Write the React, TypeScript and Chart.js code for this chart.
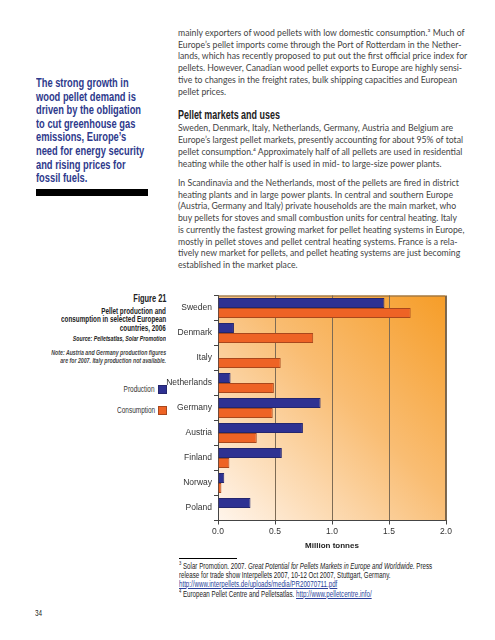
import React, { useEffect, useRef } from "react";
import { Chart, registerables } from "chart.js";

Chart.register(...registerables);

const countries = ["Sweden", "Denmark", "Italy", "Netherlands", "Germany", "Austria", "Finland", "Norway", "Poland"];
const production: (number | null)[] = [1.46, 0.14, null, 0.11, 0.9, 0.745, 0.56, 0.055, 0.285];
const consumption: (number | null)[] = [1.69, 0.835, 0.55, 0.49, 0.48, 0.34, 0.1, 0.03, null];
const xTicks = [0, 0.5, 1.0, 1.5, 2.0];

const SANS = "'Liberation Sans', Arial, sans-serif";
const BODY = "Lato, 'Open Sans', sans-serif";
const SQ = 0.745;

const para1 = [
  "mainly exporters of wood pellets with low domestic consumption.\u00B3 Much of",
  "Europe\u2019s pellet imports come through the Port of Rotterdam in the Nether-",
  "lands, which has recently proposed to put out the first official price index for",
  "pellets. However, Canadian wood pellet exports to Europe are highly sensi-",
  "tive to changes in the freight rates, bulk shipping capacities and European",
  "pellet prices.",
];
const para2 = [
  "Sweden, Denmark, Italy, Netherlands, Germany, Austria and Belgium are",
  "Europe\u2019s largest pellet markets, presently accounting for about 95% of total",
  "pellet consumption.\u2074 Approximately half of all pellets are used in residential",
  "heating while the other half is used in mid- to large-size power plants.",
];
const para3 = [
  "In Scandinavia and the Netherlands, most of the pellets are fired in district",
  "heating plants and in large power plants. In central and southern Europe",
  "(Austria, Germany and Italy) private households are the main market, who",
  "buy pellets for stoves and small combustion units for central heating. Italy",
  "is currently the fastest growing market for pellet heating systems in Europe,",
  "mostly in pellet stoves and pellet central heating systems. France is a rela-",
  "tively new market for pellets, and pellet heating systems are just becoming",
  "established in the market place.",
];
const sidebar = [
  "The strong growth in",
  "wood pellet demand is",
  "driven by the obligation",
  "to cut greenhouse gas",
  "emissions, Europe\u2019s",
  "need for energy security",
  "and rising prices for",
  "fossil fuels.",
];

const LINE = 11.7;

function Para({ lines, top }: { lines: string[]; top: number }) {
  return (
    <>
      {lines.map((l, i) => {
        const last = i === lines.length - 1;
        return (
          <div
            key={i}
            style={{
              position: "absolute",
              left: 178,
              width: 275,
              top: top + i * LINE - 6,
              height: 12,
              lineHeight: "12px",
              fontFamily: BODY,
              fontSize: 8.7,
              color: "#444",
              whiteSpace: "nowrap",
              textAlign: "justify",
              textAlignLast: last ? "left" : "justify",
            }}
          >
            {l}
          </div>
        );
      })}
    </>
  );
}

// condensed text line (horizontally squeezed sans)
function N({
  children,
  x,
  y,
  align = "left",
  size = 8.5,
  weight = "normal",
  italic = false,
  color = "#222",
  lh = 10,
}: {
  children: React.ReactNode;
  x: number;
  y: number;
  align?: "left" | "right";
  size?: number;
  weight?: string;
  italic?: boolean;
  color?: string;
  lh?: number;
}) {
  const pos: React.CSSProperties = align === "left" ? { left: x } : { right: 495 - x };
  return (
    <div
      style={{
        position: "absolute",
        ...pos,
        top: y - lh / 2,
        lineHeight: lh + "px",
        fontFamily: SANS,
        fontSize: size,
        fontWeight: weight as any,
        fontStyle: italic ? "italic" : "normal",
        color,
        whiteSpace: "nowrap",
        transform: `scaleX(${SQ})`,
        transformOrigin: align === "left" ? "left center" : "right center",
      }}
    >
      {children}
    </div>
  );
}

function ChartBox() {
  const ref = useRef<HTMLCanvasElement>(null);
  useEffect(() => {
    if (!ref.current) return;
    const bgPlugin = {
      id: "bg",
      beforeDraw(chart: any) {
        const { ctx, chartArea } = chart;
        const { left, top, right, bottom } = chartArea;
        const g = ctx.createLinearGradient(right, top, left, bottom);
        g.addColorStop(0, "#f69d28");
        g.addColorStop(0.45, "#f9bd73");
        g.addColorStop(1, "#fff5ec");
        ctx.save();
        ctx.fillStyle = g;
        ctx.fillRect(left, top, right - left, bottom - top);
        ctx.restore();
      },
      afterDatasetsDraw(chart: any) {
        const { ctx, chartArea } = chart;
        const { left, top, right, bottom } = chartArea;
        ctx.save();
        ctx.strokeStyle = "#7d6446";
        ctx.lineWidth = 1;
        ctx.beginPath();
        ctx.moveTo(left, top + 0.5);
        ctx.lineTo(right - 0.5, top + 0.5);
        ctx.lineTo(right - 0.5, bottom);
        ctx.stroke();
        ctx.restore();
      },
    };
    const chart = new Chart(ref.current, {
      type: "bar",
      data: {
        labels: countries,
        datasets: [
          {
            label: "Production",
            data: production,
            backgroundColor: "#2e3192",
            borderColor: "#24266e",
            borderWidth: 1,
            categoryPercentage: 0.8,
            barPercentage: 1.0,
          },
          {
            label: "Consumption",
            data: consumption,
            backgroundColor: "#ee6325",
            borderColor: "#a9471c",
            borderWidth: 1,
            categoryPercentage: 0.8,
            barPercentage: 1.0,
          },
        ],
      },
      options: {
        indexAxis: "y",
        responsive: false,
        animation: false,
        layout: { padding: { left: 0, right: 14, top: 10.5, bottom: 0 } },
        plugins: { legend: { display: false }, tooltip: { enabled: false } },
        scales: {
          x: {
            min: 0,
            max: 2,
            afterBuildTicks: (s: any) => {
              s.ticks = xTicks.map((v) => ({ value: v }));
            },
            afterFit: (s: any) => {
              s.height = 30.5;
            },
            ticks: {
              padding: 2,
              color: "#333",
              font: { family: SANS, size: 8.5 },
              callback: (v: any) => Number(v).toFixed(1),
            },
            grid: {
              color: "#7d6b55",
              lineWidth: 1,
              tickLength: 4,
              tickColor: "#444",
            },
            border: { color: "#444", width: 1 },
            title: {
              display: true,
              text: "Million tonnes",
              color: "#222",
              padding: { top: 0, bottom: 0 },
              font: { family: SANS, size: 8, weight: "bold" },
            },
          },
          y: {
            afterFit: (s: any) => {
              s.width = 58;
            },
            ticks: {
              padding: 2,
              color: "#333",
              font: { family: SANS, size: 8.5 },
            },
            grid: {
              offset: true,
              drawOnChartArea: false,
              tickLength: 4,
              color: "#444",
            },
            border: { color: "#444", width: 1 },
          },
        },
      },
      plugins: [bgPlugin],
    } as any);
    return () => chart.destroy();
  }, []);
  return (
    <canvas
      ref={ref}
      width={300}
      height={266}
      style={{ position: "absolute", left: 160, top: 285, width: 300, height: 266 }}
    />
  );
}

export default function App() {
  const link: React.CSSProperties = { color: "#2a3f9a", textDecoration: "underline" };
  return (
    <div style={{ position: "absolute", left: 0, top: 0, width: 495, height: 640, background: "#fff", overflow: "hidden" }}>
      {sidebar.map((l, i) => (
        <N key={i} x={36} y={83 + i * 13.6} size={12.5} weight="bold" color="#2e3a8c" lh={14}>
          {l}
        </N>
      ))}
      <div style={{ position: "absolute", left: 36, top: 188.5, width: 112, height: 7.5, background: "#000" }} />

      <Para lines={para1} top={33} />
      <N x={178} y={115} size={12} weight="bold" color="#222" lh={14}>
        Pellet markets and uses
      </N>
      <Para lines={para2} top={128.4} />
      <Para lines={para3} top={183} />

      <N x={166} y={299} align="right" size={10} weight="bold">Figure 21</N>
      <N x={166} y={310.7} align="right" size={8.5} weight="bold">Pellet production and</N>
      <N x={166} y={319.3} align="right" size={8.5} weight="bold">consumption in selected European</N>
      <N x={166} y={327.6} align="right" size={8.5} weight="bold">countries, 2006</N>
      <N x={166} y={339.3} align="right" size={7} weight="bold" italic>Source: Pelletsatlas, Solar Promotion</N>
      <N x={166} y={352.7} align="right" size={7} weight="bold" italic color="#444">Note: Austria and Germany production figures</N>
      <N x={166} y={360.7} align="right" size={7} weight="bold" italic color="#444">are for 2007. Italy production not available.</N>

      <N x={155} y={389} align="right" size={8.7} color="#333">Production</N>
      <div style={{ position: "absolute", left: 158, top: 385, width: 7, height: 7, background: "#2e3192", border: "0.5px solid #24266e" }} />
      <N x={155} y={410} align="right" size={8.7} color="#333">Consumption</N>
      <div style={{ position: "absolute", left: 158, top: 406, width: 7, height: 7, background: "#ee6325", border: "0.5px solid #a9471c" }} />

      <ChartBox />

      <div style={{ position: "absolute", left: 179, top: 557.5, width: 58, height: 1, background: "#000" }} />
      <N x={179} y={566} size={8.3}>
        <sup style={{ fontSize: 5.5, lineHeight: 0 }}>3</sup> Solar Promotion. 2007. <i>Great Potential for Pellets Markets in Europe and Worldwide</i>. Press
      </N>
      <N x={179} y={575}>
        <span style={{ fontSize: 8.3 }}>release for trade show Interpellets 2007, 10-12 Oct 2007, Stuttgart, Germany.</span>
      </N>
      <N x={179} y={583.5} size={8.3}>
        <span style={link}>http://www.interpellets.de/uploads/media/PR20070711.pdf</span>
      </N>
      <N x={179} y={594} size={8.3}>
        <sup style={{ fontSize: 5.5, lineHeight: 0 }}>4</sup> European Pellet Centre and Pelletsatlas. <span style={link}>http://www.pelletcentre.info/</span>
      </N>

      <N x={35} y={613} size={8.5}>34</N>
    </div>
  );
}
